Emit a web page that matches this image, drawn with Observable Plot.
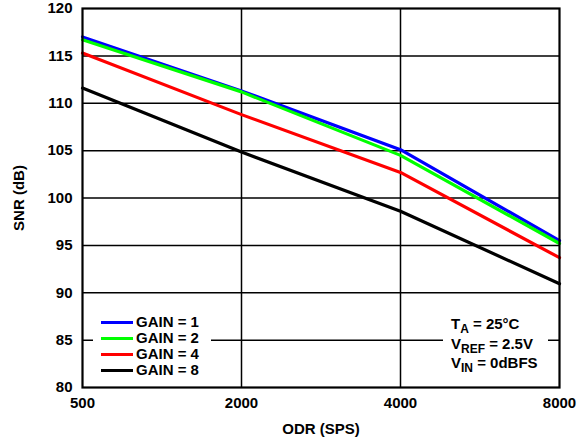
<!DOCTYPE html>
<html>
<head>
<meta charset="utf-8">
<script src="https://cdn.jsdelivr.net/npm/d3@7"></script>
<script src="https://cdn.jsdelivr.net/npm/@observablehq/plot@0.6"></script>
<style>
  html, body { margin: 0; padding: 0; background: #fff; }
  #wrap { position: relative; width: 579px; height: 444px; font-family: "Liberation Sans", Arial, sans-serif; font-weight: bold; color: #000; }
  .legend { position: absolute; left: 93px; top: 313px; width: 118px; background: #fff; padding: 1px 0; }
  .legend .row { display: flex; align-items: center; height: 16px; font-size: 15px; line-height: 16px; }
  .legend .sw { width: 32px; height: 3px; margin-left: 8px; margin-right: 3px; }
  .note { position: absolute; left: 443px; top: 314px; width: 105px; background: #fff; font-size: 15px; line-height: 19.5px; padding-left: 8px; box-sizing: border-box; }
  .note sub { font-size: 12px; vertical-align: -4px; line-height: 0; }
</style>
</head>
<body>
<div id="wrap"></div>
<script>
const odr = ["500", "2000", "4000", "8000"];
const gain1 = [117.0, 111.3, 105.1, 95.5];
const gain2 = [116.7, 111.2, 104.5, 95.2];
const gain4 = [115.3, 108.8, 102.7, 93.7];
const gain8 = [111.6, 104.85, 98.6, 90.95];
const seriesNames = ["GAIN = 1", "GAIN = 2", "GAIN = 4", "GAIN = 8"];
const seriesColors = ["#0000ff", "#00ff00", "#ff0000", "#000000"];
const yTicks = [80, 85, 90, 95, 100, 105, 110, 115, 120];
const yGrid = [85, 90, 95, 100, 105, 110, 115];
const xGrid = ["2000", "4000"];

const allSeries = [gain1, gain2, gain4, gain8];
const rows = [];
allSeries.forEach((vals, i) => vals.forEach((v, j) => rows.push({odr: odr[j], snr: v, series: seriesNames[i]})));

const chart = Plot.plot({
  width: 579,
  height: 444,
  marginLeft: 82,
  marginRight: 20,
  marginTop: 8,
  marginBottom: 57,
  style: { fontFamily: "'Liberation Sans', Arial, sans-serif", fontSize: "15px", fontWeight: "bold", color: "#000", background: "#fff" },
  x: { type: "point", domain: odr, padding: 0 },
  y: { domain: [80, 120] },
  color: { domain: seriesNames, range: seriesColors },
  marks: [
    Plot.gridY(yGrid, { stroke: "#000", strokeOpacity: 1, strokeWidth: 1.5 }),
    Plot.gridX(xGrid, { stroke: "#000", strokeOpacity: 1, strokeWidth: 1.5 }),
    ...seriesNames.map(name => Plot.line(rows.filter(d => d.series === name), { x: "odr", y: "snr", stroke: "series", strokeWidth: 3.2 })),
    Plot.frame({ stroke: "#000", strokeWidth: 2.2 }),
    Plot.axisY({ ticks: yTicks, tickSize: 0, tickPadding: 10, fontSize: 15, fontWeight: "bold", label: "SNR (dB)", labelAnchor: "center", labelArrow: "none", labelOffset: 69 }),
    Plot.axisX({ tickSize: 0, tickPadding: 10, fontSize: 15, fontWeight: "bold", label: "ODR (SPS)", labelAnchor: "center", labelArrow: "none", labelOffset: 46 })
  ]
});
const wrap = document.getElementById("wrap");
wrap.appendChild(chart);

const legend = document.createElement("div");
legend.className = "legend";
seriesNames.forEach((n, i) => {
  const r = document.createElement("div");
  r.className = "row";
  r.innerHTML = `<span class="sw" style="background:${seriesColors[i]}"></span><span>${n}</span>`;
  legend.appendChild(r);
});
wrap.appendChild(legend);

const note = document.createElement("div");
note.className = "note";
note.innerHTML = "T<sub>A</sub> = 25°C<br>V<sub>REF</sub> = 2.5V<br>V<sub>IN</sub> = 0dBFS";
wrap.appendChild(note);
</script>
</body>
</html>
